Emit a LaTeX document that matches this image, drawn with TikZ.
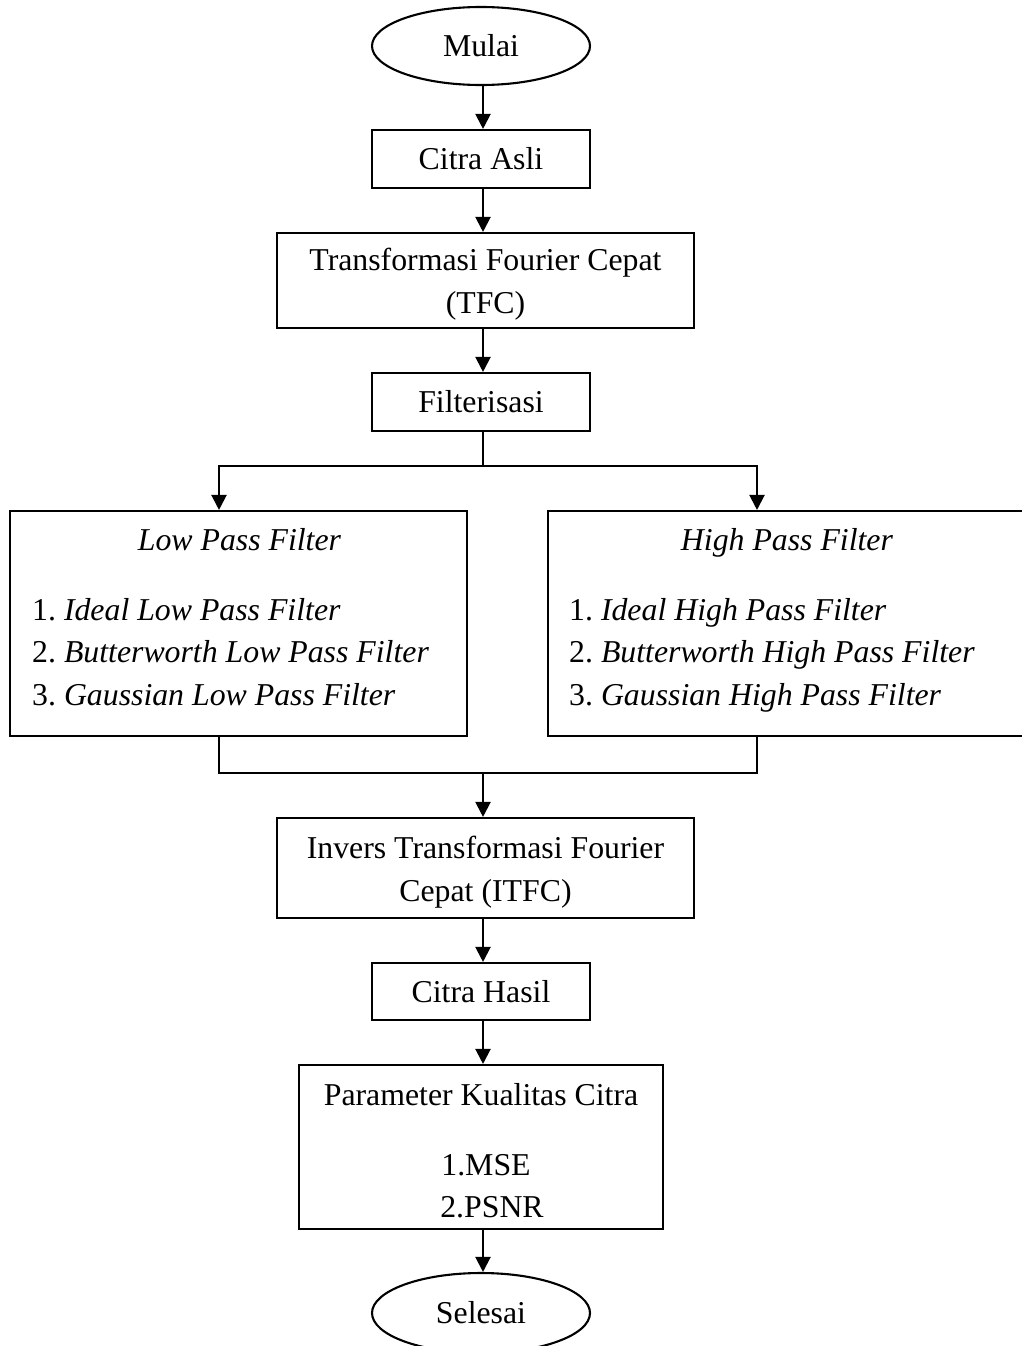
\documentclass[tikz,border=0pt]{standalone}
\usepackage{fontspec}
\setmainfont{Liberation Serif}
\usetikzlibrary{shapes.geometric,arrows.meta}
\begin{document}
\begin{tikzpicture}[x=1pt,y=-1pt,
  every node/.style={font=\fontsize{31.8}{43}\selectfont},
  proc/.style={draw,line width=2.1pt,rectangle,inner sep=0pt,align=center},
  term/.style={draw,line width=2.1pt,ellipse,inner sep=0pt},
  txt/.style={inner sep=0pt},
  conn/.style={line width=2.1pt},
  arr/.style={conn,-{Triangle[length=15pt,width=15pt]}}]
\useasboundingbox (0,0) rectangle (1021,1346);
% shapes
\node[term,minimum width=218pt,minimum height=78pt] (start) at (481,46) {Mulai};
\node[proc,minimum width=218pt,minimum height=58pt] (asli) at (481,159) {Citra Asli};
\node[proc,minimum width=417pt,minimum height=95pt] (tfc) at (485.5,280.5) {\rule{0pt}{30pt}Transformasi Fourier Cepat\\(TFC)};
\node[proc,minimum width=218pt,minimum height=58pt] (filt) at (481,402) {Filterisasi};
\node[proc,minimum width=457pt,minimum height=225pt] (lpf) at (238.5,623.5) {};
\node[proc,minimum width=482pt,minimum height=225pt] (hpf) at (789,623.5) {};
\node[proc,minimum width=417pt,minimum height=100pt] (itfc) at (485.5,868) {\rule{0pt}{30pt}Invers Transformasi Fourier\\Cepat (ITFC)};
\node[proc,minimum width=218pt,minimum height=57pt] (hasil) at (481,991.5) {Citra Hasil};
\node[proc,minimum width=364pt,minimum height=164pt] (param) at (481,1147) {};
\node[term,minimum width=218pt,minimum height=80pt] (end) at (481,1313) {Selesai};
% texts inside the filter boxes
\node[txt,anchor=base] (lpft) at (239.5,550) {\textit{Low Pass Filter}};
\node[txt,anchor=base west] (lpfa) at (32,620) {1.\ \textit{Ideal Low Pass Filter}};
\node[txt,anchor=base west] (lpfb) at (32,662) {2.\ \textit{Butterworth Low Pass Filter}};
\node[txt,anchor=base west] (lpfc) at (32,705) {3.\ \textit{Gaussian Low Pass Filter}};
\node[txt,anchor=base] (hpft) at (787,550) {\textit{High Pass Filter}};
\node[txt,anchor=base west] (hpfa) at (569,620) {1.\ \textit{Ideal High Pass Filter}};
\node[txt,anchor=base west] (hpfb) at (569,662) {2.\ \textit{Butterworth High Pass Filter}};
\node[txt,anchor=base west] (hpfc) at (569,705) {3.\ \textit{Gaussian High Pass Filter}};
% texts inside parameter box
\node[txt,anchor=base] (part) at (481,1105) {Parameter Kualitas Citra};
\node[txt,anchor=base] (para) at (486,1175) {1.MSE};
\node[txt,anchor=base] (parb) at (492,1217) {2.PSNR};
% connector helpers
\coordinate (cx) at (483,0);
\coordinate (bsplit) at (483,466);
\coordinate (bl) at (219,466);
\coordinate (br) at (757,466);
\coordinate (mj) at (483,773);
% connectors
\draw[arr] (start.south -| cx) -- (asli.north -| cx);
\draw[arr] (asli.south -| cx) -- (tfc.north -| cx);
\draw[arr] (tfc.south -| cx) -- (filt.north -| cx);
\draw[conn] (filt.south -| cx) -- (bsplit);
\draw[arr] (bsplit) -| (bl |- lpf.north);
\draw[arr] (bsplit) -| (br |- hpf.north);
\draw[conn] (lpf.south -| bl) |- (mj);
\draw[conn] (hpf.south -| br) |- (mj);
\draw[arr] (mj) -- (itfc.north -| cx);
\draw[arr] (itfc.south -| cx) -- (hasil.north -| cx);
\draw[arr] (hasil.south -| cx) -- (param.north -| cx);
\draw[arr] (param.south -| cx) -- (end.north -| cx);
\end{tikzpicture}
\end{document}
